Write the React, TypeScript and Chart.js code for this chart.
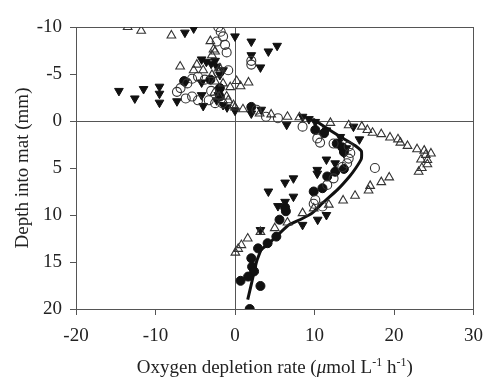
import React, { useEffect, useRef } from "react";
import { Chart, registerables } from "chart.js";

Chart.register(...registerables);

const xTicks = [-20, -10, 0, 10, 20, 30];
const yTicks = [-10, -5, 0, 5, 10, 15, 20];

const openTriangles: [number, number][] = [
  [-13.5, -10], [-11.8, -9.6], [-8.0, -9.1], [-6.9, -5.8], [-3.1, -8.5], [-2.7, -7.6], [-2.9, -7.0], [-2.5, -7.4],
  [-4.8, -6.0], [-5.2, -5.4], [-4.0, -5.4], [-1.9, -5.6], [-2.9, -4.9], [-2.5, -4.2], [-1.5, -4.0], [-2.6, -3.0],
  [-2.0, -2.6], [-1.05, -2.6], [-0.85, -2.2], [-0.6, -3.6], [0.2, -4.25], [0.7, -3.7], [1.7, -4.1], [-0.2, -1.7],
  [0, -1.45], [1.0, -1.25], [3.1, -0.8], [4.55, -0.7], [6.6, -0.45], [8.1, -0.4], [12.0, 0.2], [14.3, 0.45],
  [15.95, 0.6], [16.65, 0.95], [17.3, 1.25], [18.4, 1.4], [19.5, 1.75], [20.5, 1.95], [20.8, 2.3], [21.7, 2.65],
  [22.9, 3.0], [23.8, 3.15], [24.65, 3.45], [24.0, 3.6], [23.4, 4.1], [24.2, 4.15], [24.2, 4.6], [23.5, 5.0],
  [23.1, 5.4], [19.4, 6.0], [18.4, 6.5], [17.0, 6.9], [16.8, 7.4], [15.1, 7.95], [13.6, 8.45], [11.8, 8.9],
  [9.9, 9.3], [8.5, 9.8], [6.6, 10.8], [5.0, 11.4], [3.2, 11.8], [1.6, 12.5], [0.8, 13.2], [0.4, 13.6], [0.05, 14.0],
];

const filledInvTriangles: [number, number][] = [
  [-14.6, -3.2], [-12.6, -2.4], [-11.5, -3.4], [-9.5, -3.65], [-9.5, -2.9], [-9.5, -1.95], [-7.3, -2.1],
  [-6.3, -9.4], [-5.2, -9.85], [-6.2, -4.2], [-4.2, -4.1], [-4.2, -6.55], [-3.6, -6.3], [-3.0, -6.1],
  [-2.5, -6.4], [-2.3, -5.8], [-1.5, -5.4], [-1.9, -4.9], [-4.2, -2.75], [-4.0, -1.6], [-2.1, -2.75],
  [-1.5, -1.7], [-1.0, -1.45], [-2.3, -2.2], [0, -9.0], [0, -1.1], [2.05, -8.45], [4.2, -7.4], [5.3, -8.0],
  [2.05, -7.0], [3.2, -5.7], [2.05, -0.8], [3.3, -1.2], [6.5, 0.4], [8.5, -0.45], [9.3, -0.2], [10.1, 0.1],
  [11.5, 1.0], [13.25, 1.7], [14.9, 0.6], [15.65, 1.95], [13.0, 2.3], [14.0, 2.9], [13.7, 3.4], [11.5, 4.1],
  [12.6, 4.5], [10.35, 5.2], [10.35, 5.6], [6.3, 6.55], [7.35, 6.1], [4.2, 7.5], [7.35, 8.05], [5.4, 9.05],
  [6.3, 8.6], [3.2, 11.6], [8.5, 11.05], [10.4, 10.5], [11.5, 10.0],
];

const openCircles: [number, number][] = [
  [-2.1, -10.0], [-1.8, -9.5], [-1.5, -9.0], [-2.3, -8.45], [-1.25, -8.1], [-1.05, -7.3], [-0.85, -5.4],
  [-2.1, -5.15], [-7.3, -3.1], [-6.85, -3.5], [-6.0, -4.0], [-5.4, -2.6], [-6.2, -2.4], [-4.65, -2.2],
  [-5.4, -4.5], [-4.65, -4.7], [-3.8, -4.4], [-2.5, -1.9], [-1.6, -1.9], [-3.0, -3.2], [-3.3, -2.2],
  [2.05, -6.4], [2.05, -6.0], [2.7, -1.2], [3.9, -0.45], [5.4, -0.3], [8.5, 0.6], [10.35, 1.85], [10.7, 2.3],
  [12.4, 2.4], [14.3, 2.7], [14.5, 3.4], [14.3, 4.0], [14.1, 4.5], [13.5, 4.9], [12.4, 6.1], [11.6, 6.8],
  [10.1, 8.4], [9.9, 8.8], [11.0, 9.1], [17.6, 5.0],
];

const filledCircles: [number, number][] = [
  [-6.4, -4.25], [-3.1, -4.4], [-1.9, -3.5], [-1.9, -2.6], [2.05, -1.5], [10.1, 0.95], [11.2, 1.3],
  [12.8, 2.4], [13.5, 2.8], [13.7, 3.3], [13.7, 5.1], [12.6, 5.4], [11.6, 5.9], [9.9, 7.5], [11.0, 7.15],
  [6.4, 9.6], [6.3, 9.2], [5.6, 10.5], [5.2, 12.3], [4.1, 13.0], [2.9, 13.55], [2.05, 14.6], [2.15, 15.5],
  [2.4, 16.0], [1.65, 16.55], [0.7, 17.0], [3.2, 17.55], [1.85, 20.0],
];

const fitLine: [number, number][] = [
  [9.8, -0.2], [11.6, 0.8], [13.3, 1.7], [15.1, 2.6], [15.9, 3.2], [15.9, 4.0], [15.2, 5.0], [14.4, 5.9],
  [12.9, 7.3], [11.0, 8.75], [9.7, 9.8], [8.3, 10.45], [6.8, 11.05], [5.6, 11.95], [4.3, 13.0], [3.3, 13.7],
  [2.7, 15.0], [2.1, 17.2], [1.6, 19.0],
];

const yTitle = "Depth into mat (mm)";
const FONT = "'Liberation Serif', 'Times New Roman', serif";

const toPts = (a: [number, number][]) => a.map(([x, y]) => ({ x, y }));

const titlePlugin = {
  id: "axisTitles",
  afterDraw(chart: any) {
    const ctx = chart.ctx;
    const area = chart.chartArea;
    ctx.save();
    ctx.fillStyle = "#222";
    ctx.textBaseline = "alphabetic";
    const parts: { t: string; sup?: boolean; it?: boolean }[] = [
      { t: "Oxygen depletion rate (" },
      { t: "\u03bc", it: true },
      { t: "mol L" },
      { t: "-1", sup: true },
      { t: " h" },
      { t: "-1", sup: true },
      { t: ")" },
    ];
    const fontFor = (p: any) => `${p.it ? "italic " : ""}${p.sup ? 12 : 19}px ${FONT}`;
    let total = 0;
    for (const p of parts) {
      ctx.font = fontFor(p);
      total += ctx.measureText(p.t).width;
    }
    let x = (area.left + area.right) / 2 - total / 2;
    const base = 373;
    for (const p of parts) {
      ctx.font = fontFor(p);
      ctx.fillText(p.t, x, p.sup ? base - 7 : base);
      x += ctx.measureText(p.t).width;
    }
    ctx.font = `19px ${FONT}`;
    ctx.translate(28, (area.top + area.bottom) / 2);
    ctx.rotate(-Math.PI / 2);
    ctx.textAlign = "center";
    ctx.fillText(yTitle, 0, 0);
    ctx.restore();
  },
};

export default function App() {
  const ref = useRef<HTMLCanvasElement>(null);
  useEffect(() => {
    if (!ref.current) return;
    const lineColor = "#555";
    const gridColor = (edgeVals: number[]) => (c: any) =>
      c.tick && edgeVals.includes(c.tick.value) ? lineColor : "rgba(0,0,0,0)";
    const chart = new Chart(ref.current, {
      type: "scatter",
      data: {
        datasets: [
          {
            label: "open triangles",
            data: toPts(openTriangles),
            pointStyle: "triangle",
            pointRadius: 5,
            borderColor: "#333",
            backgroundColor: "rgba(255,255,255,0)",
            borderWidth: 1.1,
          },
          {
            label: "open circles",
            data: toPts(openCircles),
            pointStyle: "circle",
            pointRadius: 4.5,
            borderColor: "#333",
            backgroundColor: "rgba(255,255,255,0)",
            borderWidth: 1.1,
          },
          {
            label: "filled inverted triangles",
            data: toPts(filledInvTriangles),
            pointStyle: "triangle",
            rotation: 180,
            pointRadius: 5,
            borderColor: "#111",
            backgroundColor: "#111",
            borderWidth: 1,
          },
          {
            label: "filled circles",
            data: toPts(filledCircles),
            pointStyle: "circle",
            pointRadius: 4.5,
            borderColor: "#111",
            backgroundColor: "#111",
            borderWidth: 1,
          },
          {
            label: "fit",
            data: toPts(fitLine),
            showLine: true,
            pointRadius: 0,
            borderColor: "#111",
            borderWidth: 3,
            tension: 0.12,
          } as any,
        ],
      },
      options: {
        animation: false,
        responsive: false,
        maintainAspectRatio: false,
        layout: { padding: { top: 27, right: 15, left: 0, bottom: 0 } },
        plugins: { legend: { display: false }, tooltip: { enabled: false } },
        scales: {
          x: {
            type: "linear",
            min: -20,
            max: 30,
            afterBuildTicks: (s: any) => {
              s.ticks = xTicks.map((v) => ({ value: v }));
            },
            afterFit: (s: any) => {
              s.height = 71;
            },
            ticks: { color: "#222", font: { family: FONT, size: 19 }, padding: 10 },
            grid: {
              color: gridColor([0, 30]),
              tickColor: lineColor,
              tickLength: 6,
              lineWidth: 1,
            },
            border: { color: lineColor, width: 1 },
          },
          y: {
            type: "linear",
            reverse: true,
            min: -10,
            max: 20,
            afterBuildTicks: (s: any) => {
              s.ticks = yTicks.map((v) => ({ value: v }));
            },
            afterFit: (s: any) => {
              s.width = 76;
            },
            ticks: { color: "#222", font: { family: FONT, size: 19 }, padding: 8 },
            grid: {
              color: gridColor([0, -10]),
              tickColor: lineColor,
              tickLength: 6,
              lineWidth: 1,
            },
            border: { color: lineColor, width: 1 },
          },
        },
      },
      plugins: [titlePlugin],
    });
    return () => chart.destroy();
  }, []);
  return (
    <div style={{ position: "fixed", left: 0, top: 0, width: 493, height: 380, background: "#fff" }}>
      <canvas ref={ref} width={493} height={380} style={{ width: 493, height: 380 }} />
    </div>
  );
}
